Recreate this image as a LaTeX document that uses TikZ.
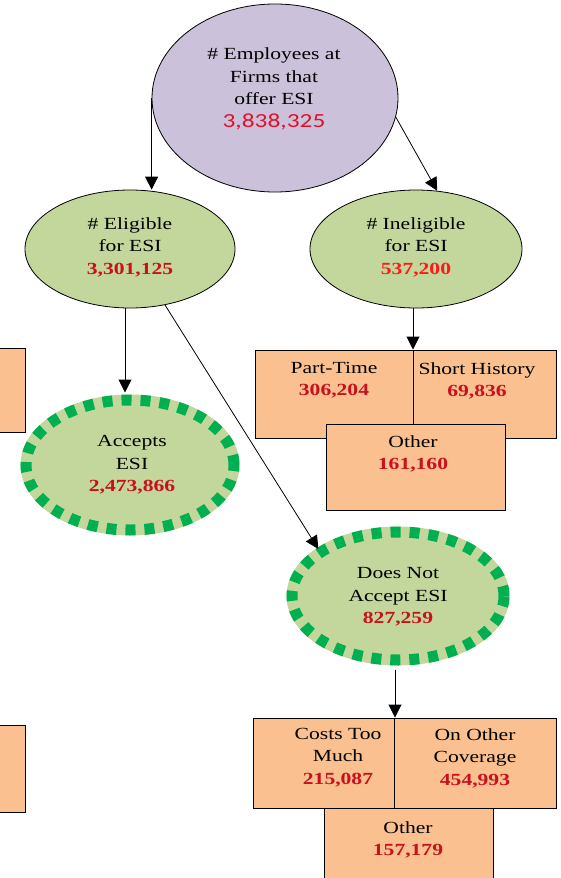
\documentclass[tikz,border=0pt]{standalone}
\usepackage{fontspec}
\setmainfont{Liberation Serif}[FakeStretch=1.27]
\newfontfamily\topnum{Carlito}[FakeStretch=1.27]
\usetikzlibrary{shapes.geometric,arrows.meta}
\definecolor{lavender}{HTML}{CCC1DA}
\definecolor{sage}{HTML}{C3D69B}
\definecolor{peach}{HTML}{FAC08F}
\definecolor{dotgreen}{HTML}{00B050}
\definecolor{numred}{HTML}{C8101E}
\definecolor{brightred}{HTML}{FF1A1A}
\definecolor{topred}{HTML}{E0102A}
\tikzset{
  oval/.style={ellipse, inner sep=0pt, draw=black, line width=0.8pt},
  dotoval/.style={ellipse, inner sep=0pt, fill=sage, draw=dotgreen, line width=11pt,
    dash pattern=on 10pt off 9pt, preaction={draw=sage, solid}},
  cell/.style={rectangle, inner sep=0pt, draw=black, line width=1pt, fill=peach},
  lbl/.style={align=center, inner sep=0pt, font=\fontsize{17}{22.5}\selectfont},
  arr/.style={line width=1pt, -{Triangle[width=13pt,length=13pt]}},
  thin/.style={line width=0.8pt, -{Triangle[width=13pt,length=13pt]}}
}
\newcommand{\num}[1]{{\bfseries\color{numred}#1}}
\begin{document}
\begin{tikzpicture}[x=1pt,y=-1pt]
\useasboundingbox (0,0) rectangle (561,878);

% cut-off boxes at the left edge
\node[cell, minimum width=35pt, minimum height=84pt] (lbox1) at (7.5,390) {};
\node[cell, minimum width=35pt, minimum height=87pt] (lbox2) at (7.5,768.5) {};

% ellipses
\node[oval, fill=lavender, minimum width=246pt, minimum height=188pt] (top) at (275,98) {};
\node[oval, fill=sage, minimum width=210pt, minimum height=118pt] (elig) at (130,249) {};
\node[oval, fill=sage, minimum width=212pt, minimum height=118pt] (inel) at (416,249) {};
\node[dotoval, minimum width=208pt, minimum height=130pt] (acc) at (130,465) {};
\node[dotoval, minimum width=212pt, minimum height=128pt] (dna) at (398,596) {};

\node[lbl] (toptxt) at (274,89) {\# Employees at\\Firms that\\offer ESI\\{\topnum\fontsize{20}{22.5}\selectfont\color{topred}3,838,325}};
\node[lbl] (eligtxt) at (130,247) {\# Eligible\\for ESI\\\num{3,301,125}};
\node[lbl] (ineltxt) at (416,247) {\# Ineligible\\for ESI\\{\bfseries\color{brightred}537,200}};
\node[lbl] (acctxt) at (132,465) {Accepts\\ESI\\\num{2,473,866}};
\node[lbl] (dnatxt) at (398,597) {Does Not\\Accept ESI\\\num{827,259}};

% reasons for being ineligible
\node[cell, minimum width=158pt, minimum height=88pt] (pt) at (334,394) {};
\node[cell, minimum width=143pt, minimum height=88pt] (sh) at (484.5,394) {};
\node[cell, minimum width=179pt, minimum height=86pt] (oth1) at (415.5,467) {};
\node[lbl, anchor=north] (pttxt) at (334,362) {Part-Time\\\num{306,204}};
\node[lbl, anchor=north] (shtxt) at (477,362) {Short History\\\num{69,836}};
\node[lbl, anchor=north] (oth1txt) at (413,435) {Other\\\num{161,160}};

% reasons for not accepting
\node[cell, minimum width=141pt, minimum height=90pt] (ctm) at (323.5,763) {};
\node[cell, minimum width=162pt, minimum height=90pt] (ooc) at (475,763) {};
\node[cell, minimum width=169pt, minimum height=80pt] (oth2) at (408.5,848) {};
\node[lbl, anchor=north] (ctmtxt) at (338,728) {Costs Too\\Much\\\num{215,087}};
\node[lbl, anchor=north] (ooctxt) at (475,728) {On Other\\Coverage\\\num{454,993}};
\node[lbl, anchor=north] (oth2txt) at (408,821) {Other\\\num{157,179}};

% connectors
\draw[arr] (top.west) -- (top.west |- elig.north);
\draw[thin] (top.-9.5) -- (inel.70);
\draw[arr] ([xshift=-3pt]inel.south) -- ([xshift=-3pt]inel.south |- pt.north);
\draw[arr] ([xshift=-5pt]elig.south) -- ([xshift=-5pt,yshift=2pt]acc.north);
\draw[thin] (elig.-58) -- ([xshift=-4pt,yshift=-4pt]dna.146.7);
\draw[arr] ([xshift=-3pt,yshift=-4pt]dna.south) -- ([xshift=-3pt]dna.south |- ctm.north);
\end{tikzpicture}
\end{document}
